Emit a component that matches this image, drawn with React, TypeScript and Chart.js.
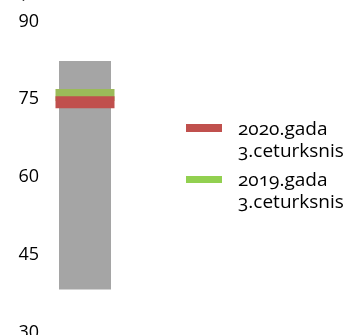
import React, { useEffect, useRef } from "react";
import { Chart, registerables } from "chart.js";

Chart.register(...registerables);

const categories = [""];
const rangeLow = [38.3];
const rangeHigh = [82.4];
const q3_2020 = [74.4];
const q3_2019 = [75.8];
const seriesNames = ["2020.gada 3.ceturksnis", "2019.gada 3.ceturksnis"];
const yMin = 30;
const yMax = 90;
const yStep = 15;
const titleText = "procentos";

const FONT = "'Open Sans', sans-serif";
const RED = "#C0504D";
const GREEN = "#9BBB59";
const GREEN_LEGEND = "#92D050";
const GRAY = "#A5A5A5";

export default function App() {
  const ref = useRef<HTMLCanvasElement | null>(null);

  useEffect(() => {
    if (!ref.current) return;
    const chart = new Chart(ref.current, {
      type: "bar",
      data: {
        labels: categories,
        datasets: [
          {
            type: "line",
            label: seriesNames[0],
            data: q3_2020,
            showLine: false,
            pointStyle: "line",
            pointRadius: 29.5,
            pointHoverRadius: 29.5,
            borderColor: RED,
            backgroundColor: RED,
            pointBorderWidth: 12,
            order: 0,
          } as any,
          {
            type: "line",
            label: seriesNames[1],
            data: q3_2019,
            showLine: false,
            pointStyle: "line",
            pointRadius: 29.5,
            pointHoverRadius: 29.5,
            borderColor: GREEN,
            backgroundColor: GREEN,
            pointBorderWidth: 12,
            order: 1,
          } as any,
          {
            type: "bar",
            label: "range",
            data: rangeLow.map((lo, i) => [lo, rangeHigh[i]]),
            backgroundColor: GRAY,
            borderWidth: 0,
            barPercentage: 0.65,
            categoryPercentage: 1,
            order: 2,
          } as any,
        ],
      },
      options: {
        responsive: false,
        animation: false,
        layout: { padding: { top: 0, left: 0, right: 222, bottom: 21.5 } },
        plugins: {
          legend: { display: false },
          tooltip: { enabled: false },
          title: {
            display: true,
            text: titleText,
            color: "#404040",
            font: { family: FONT, size: 18, style: "italic", weight: "normal" },
            padding: { top: 0, bottom: 19 },
          },
        },
        scales: {
          x: { display: false },
          y: {
            min: yMin,
            max: yMax,
            grid: { display: false, drawTicks: false },
            border: { display: false },
            ticks: {
              stepSize: yStep,
              padding: 6,
              color: "#000",
              font: { family: FONT, size: 18 },
            },
            afterFit: (s: any) => {
              s.width = 45;
            },
          },
        },
      },
    });
    return () => chart.destroy();
  }, []);

  const legendText: React.CSSProperties = {
    position: "absolute",
    left: 238,
    fontFamily: FONT,
    fontSize: 19,
    lineHeight: "22px",
    color: "#000",
    fontVariantNumeric: "oldstyle-nums",
    whiteSpace: "nowrap",
  };

  return (
    <div style={{ position: "fixed", left: 0, top: 0, width: 347, height: 335, overflow: "hidden", background: "#fff" }}>
      <canvas ref={ref} width={347} height={394} style={{ position: "absolute", left: 0, top: -20 }} />
      <div style={{ position: "absolute", left: 186, top: 124, width: 36, height: 8, background: RED }} />
      <div style={{ ...legendText, top: 117 }}>
        <div>2020.gada</div>
        <div>3.ceturksnis</div>
      </div>
      <div style={{ position: "absolute", left: 186, top: 176, width: 36, height: 7, background: GREEN_LEGEND }} />
      <div style={{ ...legendText, top: 168 }}>
        <div>2019.gada</div>
        <div>3.ceturksnis</div>
      </div>
    </div>
  );
}
